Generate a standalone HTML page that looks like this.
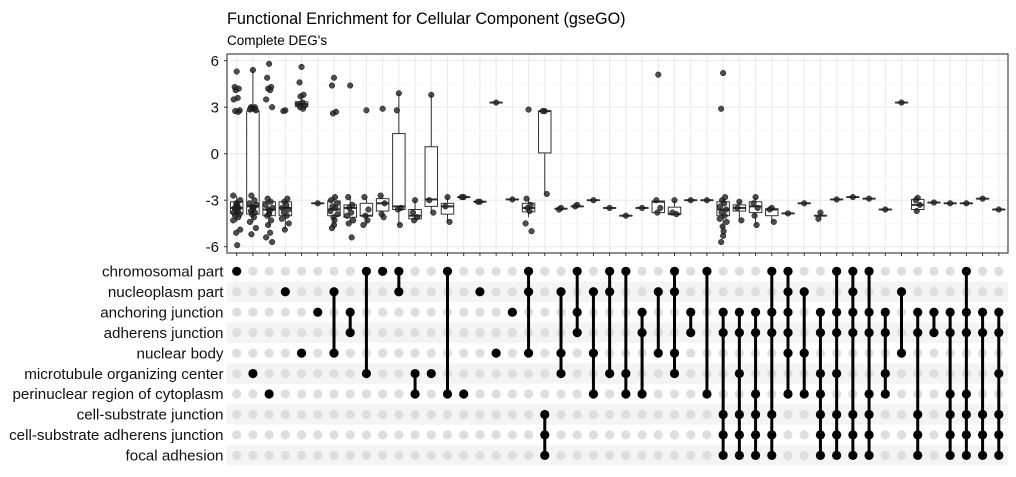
<!DOCTYPE html>
<html><head><meta charset="utf-8"><style>
body{margin:0;background:#fff;}
svg{display:block;font-family:"Liberation Sans",Arial,sans-serif;}
</style></head><body>
<svg id="chart" width="1016" height="477" viewBox="0 0 1016 477" xmlns="http://www.w3.org/2000/svg">
<text x="227" y="24" font-size="16.2" fill="#000">Functional Enrichment for Cellular Component (gseGO)</text>
<text x="227" y="45" font-size="13.5" fill="#000">Complete DEG's</text>
<g id="grid"></g>
<g id="boxes"></g>
<g id="yaxis"></g>
<g id="matrix"></g>
</svg>
<script>
const setNames = ["chromosomal part","nucleoplasm part","anchoring junction","adherens junction","nuclear body","microtubule organizing center","perinuclear region of cytoplasm","cell-substrate junction","cell-substrate adherens junction","focal adhesion"];
const memberships = [[0],[5],[6],[1],[4],[2],[1,4],[2,3],[0,5],[0],[0,1],[5,6],[5],[0,6],[6],[1],[4],[2],[0,1,4],[7,8,9],[1,4,5],[0,2,3],[1,4,6],[0,1,5],[0,5,6],[2,3,6],[1,4],[0,1,4,5],[2,3],[0,6],[2,3,7,8,9],[2,3,5,7,8,9],[2,3,6,7,8,9],[0,2,3,7,8,9],[0,1,2,3,4,6],[1,4,6],[2,3,5,6,7,8,9],[0,2,3,5,7,8,9],[0,1,2,3,7,8,9],[0,2,3,6,7,8,9],[2,3,5,6],[1,4],[2,3,7,8,9],[2,3],[2,3,6,7,8,9],[0,2,3,6,7,8,9],[2,3,7,8,9],[2,3,5,7,8,9]];
// box stats per column: [lowerWhisker, q1, median, q3, upperWhisker]
const boxStats = [[-4.4,-3.85,-3.5,-3.1,-2.7],[-4.4,-3.9,-3.4,2.75,5.4],[-4.6,-4.0,-3.6,-3.1,-2.9],[-4.9,-4.0,-3.5,-3.1,-2.9],[2.95,3.05,3.2,3.35,3.8],[-3.2,-3.2,-3.2,-3.2,-3.2],[-4.8,-4.0,-3.6,-3.05,-2.8],[-4.5,-4.1,-3.5,-3.3,-2.8],[-4.6,-4.0,-4.0,-3.2,-2.8],[-4.1,-3.7,-3.2,-2.9,-2.7],[-4.6,-3.6,-3.4,1.3,3.9],[-4.3,-4.2,-4.0,-3.6,-3.0],[-3.8,-3.4,-2.95,0.45,3.8],[-4.4,-3.9,-3.4,-3.2,-2.8],[-2.8,-2.8,-2.8,-2.8,-2.8],[-3.1,-3.1,-3.1,-3.1,-3.1],[3.3,3.3,3.3,3.3,3.3],[-2.95,-2.95,-2.95,-2.95,-2.95],[-4.1,-3.75,-3.5,-3.2,-2.9],[-2.6,0.05,2.75,2.75,2.75],[-3.55,-3.55,-3.55,-3.55,-3.55],[-3.4,-3.4,-3.4,-3.4,-3.4],[-3.0,-3.0,-3.0,-3.0,-3.0],[-3.5,-3.5,-3.5,-3.5,-3.5],[-4.0,-4.0,-4.0,-4.0,-4.0],[-3.5,-3.5,-3.5,-3.5,-3.5],[-3.8,-3.8,-3.1,-3.05,-3.0],[-3.9,-3.9,-3.9,-3.45,-3.0],[-3.0,-3.0,-3.0,-3.0,-3.0],[-3.0,-3.0,-3.0,-3.0,-3.0],[-4.8,-4.0,-3.6,-3.1,-2.8],[-4.3,-3.7,-3.5,-3.3,-3.1],[-4.6,-3.8,-3.4,-3.1,-2.8],[-4.4,-4.0,-3.6,-3.55,-3.5],[-3.85,-3.85,-3.85,-3.85,-3.85],[-3.2,-3.2,-3.2,-3.2,-3.2],[-4.2,-4.0,-4.0,-4.0,-3.8],[-2.95,-2.95,-2.95,-2.95,-2.95],[-2.8,-2.8,-2.8,-2.8,-2.8],[-2.9,-2.9,-2.9,-2.9,-2.9],[-3.6,-3.6,-3.6,-3.6,-3.6],[3.3,3.3,3.3,3.3,3.3],[-3.7,-3.6,-3.3,-2.95,-2.85],[-3.15,-3.15,-3.15,-3.15,-3.15],[-3.2,-3.2,-3.2,-3.2,-3.2],[-3.2,-3.2,-3.2,-3.2,-3.2],[-2.9,-2.9,-2.9,-2.9,-2.9],[-3.6,-3.6,-3.6,-3.6,-3.6]];
// observed points per column
const points = [
[5.3,4.3,4.2,4.1,3.6,3.5,2.8,2.75,2.7,-2.7,-3.0,-3.2,-3.3,-3.4,-3.5,-3.5,-3.6,-3.7,-3.8,-3.9,-4.0,-4.1,-4.3,-4.9,-5.1,-5.9],
[5.4,3.0,3.0,2.95,2.9,2.85,2.8,-2.7,-3.0,-3.2,-3.3,-3.4,-3.5,-3.6,-3.7,-3.8,-3.9,-4.1,-4.4,-4.8,-5.2],
[5.8,4.9,4.3,4.2,4.1,3.5,3.0,-2.9,-3.1,-3.3,-3.5,-3.6,-3.7,-3.9,-4.0,-4.3,-4.6,-5.1,-5.4,-5.7],
[2.8,2.75,-2.9,-3.1,-3.3,-3.5,-3.6,-3.8,-4.0,-4.2,-4.5,-4.9],
[5.6,4.6,3.8,3.7,3.3,3.2,3.1,3.0,2.9],
[-3.2],
[4.9,4.4,2.7,2.6,-2.8,-3.0,-3.2,-3.4,-3.5,-3.7,-3.9,-4.1,-4.3,-4.6,-4.8],
[4.4,-2.8,-3.3,-3.5,-3.8,-4.0,-4.3,-4.5,-5.4],
[2.8,-2.8,-3.6,-4.0,-4.3,-4.6],
[2.9,-2.7,-3.2,-3.9,-4.1],
[3.9,2.8,-3.5,-3.6,-4.6],
[-3.0,-3.8,-4.1,-4.3],
[3.8,-3.0,-3.8],
[-2.8,-3.4,-4.4],
[-2.8,-2.8],
[-3.1,-3.1],
[3.3],
[-2.95],
[2.85,-2.9,-3.3,-3.5,-3.7,-4.5,-5.0],
[2.75,2.75,-2.6],
[-3.5,-3.6],
[-3.3,-3.4],
[-3.0],
[-3.5],
[-4.0],
[-3.5],
[5.1,-3.0,-3.5,-3.8],
[-3.0,-3.8,-3.9],
[-3.0],
[-3.0],
[5.2,2.9,-2.8,-3.0,-3.2,-3.4,-3.6,-3.8,-4.0,-4.2,-4.4,-4.7,-5.0,-5.3,-5.7],
[-3.1,-3.5,-4.3],
[-2.8,-3.2,-3.5,-4.0,-4.6],
[-3.5,-3.6,-4.4],
[-3.85],
[-3.2],
[-3.8,-4.2],
[-2.95],
[-2.8],
[-2.9],
[-3.6],
[3.3],
[-2.85,-3.0,-3.3,-3.7],
[-3.15],
[-3.2],
[-3.2],
[-2.9],
[-3.6]];
const yTicks = [6,3,0,-3,-6];

const NS="http://www.w3.org/2000/svg";
function mk(tag,attrs,parent){const e=document.createElementNS(NS,tag);for(const k in attrs)e.setAttribute(k,attrs[k]);parent.appendChild(e);return e;}
const pL=227,pR=1008,pT=54,pB=253;
const x0=236.7, dx=(998.8-236.7)/47;
function xs(i){return x0+i*dx;}
function ys(v){return 153.7-v*15.5;}
const grid=document.getElementById('grid');
const bg=mk('rect',{x:pL,y:pT,width:pR-pL,height:pB-pT,fill:'#fff'},grid);


for(let v=-7.5;v<=6.5;v+=1.5){const y=ys(v);if(y<pT||y>pB)continue;const major=Math.abs(v%3)<0.01;
 const l=mk('line',{x1:pL,x2:pR,y1:y,y2:y,stroke:major?'#ebebeb':'#f4f4f4','stroke-width':major?1.1:0.6},grid);
 
 }
for(let i=0;i<memberships.length;i++){
 const l=mk('line',{x1:xs(i),x2:xs(i),y1:pT,y2:pB,stroke:'#ebebeb','stroke-width':1.1},grid);
 
 
 const t=mk('line',{x1:xs(i),x2:xs(i),y1:pB,y2:pB+3,stroke:'#333','stroke-width':1},grid);
 
 }
const ya=document.getElementById('yaxis');
yTicks.forEach(v=>{
 const t=mk('text',{x:219,y:ys(v)+5.5,'text-anchor':'end','font-size':15,fill:'#111'},ya);t.textContent=v;
 
 
 const tk=mk('line',{x1:pL-3,x2:pL,y1:ys(v),y2:ys(v),stroke:'#333'},ya);
 
 });
const border=mk('rect',{x:pL,y:pT,width:pR-pL,height:pB-pT,fill:'none',stroke:'#333','stroke-width':1.1},ya);



const bx=document.getElementById('boxes');
const jit=[0,-2,2,-1,1,-3,3,-1.5,1.5,-3.5,3.5,-0.5,0.5];
boxStats.forEach((s,i)=>{
 const g=mk('g',{},bx);
 
 
 const cx=xs(i),w=12.5;
 mk('line',{x1:cx,x2:cx,y1:ys(s[0]),y2:ys(s[1]),stroke:'#333','stroke-width':1},g);
 mk('line',{x1:cx,x2:cx,y1:ys(s[3]),y2:ys(s[4]),stroke:'#333','stroke-width':1},g);
 mk('rect',{x:cx-w/2,y:ys(s[3]),width:w,height:Math.max(0.1,ys(s[1])-ys(s[3])),fill:'#fff',stroke:'#333','stroke-width':1},g);
 mk('line',{x1:cx-w/2,x2:cx+w/2,y1:ys(s[2]),y2:ys(s[2]),stroke:'#333','stroke-width':2},g);
 points[i].forEach((v,k)=>{
  const p=mk('circle',{cx:cx+jit[k%jit.length],cy:ys(v),r:2.8,fill:'#222','fill-opacity':0.8,stroke:'#111','stroke-width':0.5},g);
  
  
 });
});

const mx=document.getElementById('matrix');
const r0=271.3, dr=20.45;
function rs(j){return r0+j*dr;}
setNames.forEach((n,j)=>{
 if(j%2===1){const s=mk('rect',{x:pL,y:rs(j)-dr/2,width:pR-pL,height:dr,fill:'#f4f4f4'},mx);
  
  }
 const t=mk('text',{x:223.5,y:rs(j)+5.2,'text-anchor':'end','font-size':15.2,fill:'#111'},mx);t.textContent=n;
 
 
});
memberships.forEach((m,i)=>{
 const cx=xs(i);
 for(let j=0;j<setNames.length;j++){if(m.indexOf(j)<0){const d=mk('circle',{cx:cx,cy:rs(j),r:4.6,fill:'#dedede'},mx);
  
  }}
 const lo=Math.min(...m),hi=Math.max(...m);
 if(hi>lo){const l=mk('line',{x1:cx,x2:cx,y1:rs(lo),y2:rs(hi),stroke:'#000','stroke-width':3},mx);
  
  }
 m.forEach(j=>{const d=mk('circle',{cx:cx,cy:rs(j),r:4.6,fill:'#000'},mx);
  
  });
});
</script>
</body></html>
